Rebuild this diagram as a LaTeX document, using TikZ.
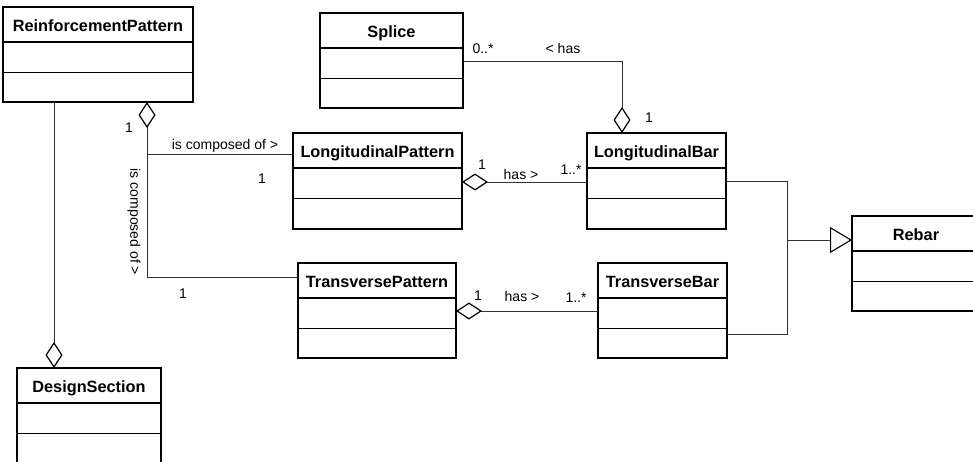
\documentclass[tikz,border=0pt]{standalone}
\usepackage{fontspec}
\setmainfont{Liberation Sans}
\usetikzlibrary{arrows.meta,calc}

\tikzset{
  clsbox/.style={draw=black, line width=1.5pt, rectangle, anchor=north west,
                 inner sep=0pt, outer sep=0pt},
  clsline/.style={draw=black, line width=1.4pt},
  clstitle/.style={anchor=base, inner sep=0pt, font=\fontsize{16.3}{19}\selectfont\bfseries},
  assoc/.style={draw=black!80, line width=0.9pt},
  lbl/.style={anchor=base, inner sep=0pt, font=\fontsize{14}{16}\selectfont},
  aggr/.tip={Diamond[open, length=26pt, width=17pt, line width=1.2pt, color=black]},
  gener/.tip={Triangle[open, length=22pt, width=26pt, line width=1.1pt, color=black]},
}

% UML class with name, attribute and operation compartments
% #1 name, #2 x, #3 y (top left), #4 width, #5 height, #6 title x offset, #7 title
\newcommand{\umlcls}[7]{%
  \node[clsbox, minimum width=#4pt, minimum height=#5pt] (#1) at (#2,#3) {};
  \node[clstitle] (#1-t) at ($(#1.north west)+(#6,24.5)$) {#7};
  \draw[clsline] ($(#1.north west)+(0,35)$) -- ($(#1.north east)+(0,35)$);
  \draw[clsline] ($(#1.north west)+(0,65.5)$) -- ($(#1.north east)+(0,65.5)$);
}

\begin{document}
\begin{tikzpicture}[x=1pt, y=-1pt]
\useasboundingbox (0,0) rectangle (973,462);
\clip (0,0) rectangle (973,462);

% classes
\umlcls{rp}{3}{7}{190}{95}{95}{ReinforcementPattern}
\umlcls{splice}{320}{13}{143}{95}{71.5}{Splice}
\umlcls{lp}{293}{133}{169}{96}{84.5}{LongitudinalPattern}
\umlcls{lb}{587}{133}{139}{96}{69.5}{LongitudinalBar}
\umlcls{tp}{298}{263}{158}{95}{79}{TransversePattern}
\umlcls{tb}{598}{263}{129}{95}{64.5}{TransverseBar}
\umlcls{rebar}{852}{216}{170}{95}{64}{Rebar}
\umlcls{ds}{17}{368}{144}{120}{72}{DesignSection}

% anchor points on the class borders
\coordinate (rpa) at ($(rp.south west)+(144,0)$);
\coordinate (lpin) at ($(lp.north west)+(0,21)$);
\coordinate (tpin) at ($(tp.north west)+(0,14)$);
\coordinate (gj) at (787,240);

% ReinforcementPattern -- DesignSection
\draw[assoc, -{aggr}] ($(rp.south west)+(51,0)$) -- ($(ds.north west)+(37,0)$);

% ReinforcementPattern is composed of the two patterns
\draw[assoc, {aggr}-] (rpa) -- (rpa |- tpin) -- (tpin);
\draw[assoc] (rpa |- lpin) -- (lpin);

% Splice -- LongitudinalBar
\draw[assoc, -{aggr}] ($(splice.north east)+(0,48)$) -| ($(lb.north west)+(35,0)$);

% patterns have bars
\draw[assoc, {aggr}-] ($(lp.north east)+(0,49)$) -- ($(lb.north west)+(0,49)$);
\draw[assoc, {aggr}-] ($(tp.north east)+(0,48)$) -- ($(tb.north west)+(0,48)$);

% generalisation to Rebar
\draw[assoc] ($(lb.north east)+(0,48)$) -| (gj);
\draw[assoc] ($(tb.north east)+(0,71)$) -| (gj);
\draw[assoc, -{gener}] (gj) -- (gj -| rebar.west);

% labels
\node[lbl] (m1) at (129,133) {1};
\node[lbl] (l1) at (225,150) {is composed of >};
\node[lbl] (m2) at (262,184) {1};
\node[lbl, anchor=center, rotate=-90] (l2) at (134,222) {is composed of >};
\node[lbl] (m3) at (183,298) {1};
\node[lbl] (m4) at (483,54) {0..*};
\node[lbl] (l3) at (563,53.5) {< has};
\node[lbl] (m5) at (649,122.5) {1};
\node[lbl] (m6) at (482,170) {1};
\node[lbl] (l4) at (521,180) {has >};
\node[lbl] (m7) at (571,175) {1..*};
\node[lbl] (m8) at (478,300) {1};
\node[lbl] (l5) at (522,301.5) {has >};
\node[lbl] (m9) at (576,302.5) {1..*};
\end{tikzpicture}
\end{document}
